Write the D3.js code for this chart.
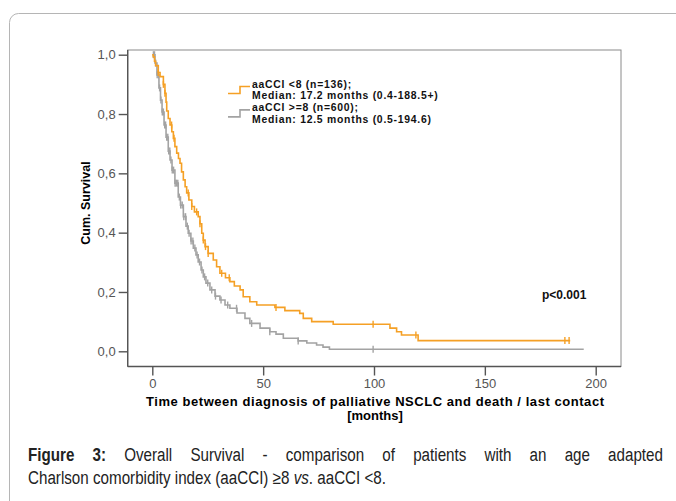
<!DOCTYPE html>
<html>
<head>
<meta charset="utf-8">
<script src="https://cdn.jsdelivr.net/npm/d3@7"></script>
<style>
  body { margin: 0; background: #fff; }
  svg { display: block; font-family: "Liberation Sans", Arial, sans-serif; }
</style>
</head>
<body>
<script>
// Kaplan-Meier chart, overall survival by aaCCI

//step data: time (months) and cumulative survival
var lowTimes = [0, 0.4, 1, 1.5, 2.7, 3.5, 5, 5.7, 6.2, 6.5, 7.2, 8, 8.8, 9.5, 10.2, 11, 11.8, 12.5, 13.2, 14, 14.8, 15.5, 16.5, 17.8, 19, 20.7, 21.5, 22.3, 23, 23.8, 25.2, 27.5, 29, 30.5, 33, 35, 37, 39.6, 41, 44, 47.1, 55.3, 59.8, 66.5, 68.1, 71.9, 81.6, 107.2, 110.2, 112.4, 119.9];
var lowSurv = [1, 0.993, 0.978, 0.963, 0.94, 0.926, 0.9, 0.87, 0.84, 0.81, 0.785, 0.763, 0.74, 0.718, 0.69, 0.668, 0.65, 0.634, 0.605, 0.578, 0.555, 0.534, 0.51, 0.488, 0.47, 0.454, 0.43, 0.398, 0.375, 0.353, 0.33, 0.308, 0.285, 0.263, 0.248, 0.235, 0.22, 0.207, 0.184, 0.167, 0.156, 0.148, 0.137, 0.128, 0.111, 0.1, 0.091, 0.078, 0.066, 0.055, 0.036];
var lowEnd = 188.5;
var lowCensor = [2.7, 5.0, 5.7, 8.7, 9.8, 16.2, 17.8, 20.0, 21.5, 23.0, 24.0, 25.2, 31.3, 34.7, 55.8, 99.6, 118.9, 186.1, 188.0];

var highTimes = [0, 1.2, 2.1, 3.0, 3.7, 4.4, 5.3, 6.2, 7.2, 8.0, 8.9, 10.2, 11.7, 12.7, 14.0, 15.2, 16.2, 17.4, 18.5, 19.7, 20.7, 22.0, 23.0, 24.2, 26.0, 28.3, 30.5, 32.8, 35.0, 38.2, 41.8, 44.0, 48.6, 53.0, 55.8, 59.1, 65.8, 69.7, 74.1, 77.0, 79.9];
var highSurv = [1, 0.972, 0.932, 0.888, 0.847, 0.807, 0.763, 0.722, 0.675, 0.645, 0.611, 0.567, 0.52, 0.493, 0.454, 0.422, 0.398, 0.372, 0.348, 0.325, 0.301, 0.274, 0.251, 0.23, 0.207, 0.186, 0.173, 0.156, 0.145, 0.129, 0.111, 0.094, 0.078, 0.066, 0.058, 0.044, 0.035, 0.028, 0.021, 0.014, 0.007];
var highEnd = 194.6;
var highCensor = [0.5, 1.0, 1.5, 2.2, 2.8, 3.3, 3.9, 4.5, 5.0, 5.6, 6.0, 6.5, 7.0, 7.4, 7.9, 8.4, 9.0, 9.6, 10.3, 10.9, 11.5, 12.2, 12.8, 13.5, 14.2, 15.0, 15.8, 16.6, 17.5, 18.3, 19.2, 20.2, 21.3, 22.4, 23.6, 25.0, 26.8, 28.5, 31.0, 34.0, 38.0, 44.8, 53.0, 65.8, 99.6];

var xTicks = [0, 50, 100, 150, 200];
var yTicks = [0, 0.2, 0.4, 0.6, 0.8, 1.0];

var legendLabels = [
    ["aaCCI <8 (n=136);", "Median: 17.2 months (0.4-188.5+)"],
    ["aaCCI >=8 (n=600);", "Median: 12.5 months (0.5-194.6)"]
];
var seriesColors = ["#f5a025", "#a3a3a3"];

var captionLine1 = [["Figure", true], ["3:", true], ["Overall", false], ["Survival", false], ["-", false], ["comparison", false], ["of", false], ["patients", false], ["with", false], ["an", false], ["age", false], ["adapted", false]];

(function(){

var width = 676,
    height = 501;

var svg = d3.select("body")
    .append("svg")
    .attr("width", width)
    .attr("height", height);

//card outline
svg.append("rect")
    .attr("x", 9.5)
    .attr("y", 13.5)
    .attr("width", 700)
    .attr("height", 520)
    .attr("rx", 9)
    .attr("fill", "none")
    .attr("stroke", "#b5b5b5")
    .attr("stroke-width", 1);

//scales
var x = d3.scaleLinear().domain([0, 200]).range([152.3, 595.7]);
var y = d3.scaleLinear().domain([0, 1]).range([351.3, 54.7]);

var frameLeft = 127.7, frameRight = 621, frameTop = 50, frameBottom = 366.5;

//plot frame
svg.append("rect")
    .attr("x", frameLeft)
    .attr("y", frameTop)
    .attr("width", frameRight - frameLeft)
    .attr("height", frameBottom - frameTop)
    .attr("fill", "none")
    .attr("stroke", "#8a8a8a")
    .attr("stroke-width", 1);

//y axis
var yAxis = svg.append("g")
    .attr("transform", "translate(" + frameLeft + ",0)")
    .call(d3.axisLeft(y).tickValues(yTicks).tickSize(9).tickPadding(3)
        .tickFormat(function(d){ return d3.format(".1f")(d).replace(".", ","); }));
yAxis.select(".domain").attr("d", "M0," + frameTop + "V" + frameBottom);

//x axis
var xAxis = svg.append("g")
    .attr("transform", "translate(0," + frameBottom + ")")
    .call(d3.axisBottom(x).tickValues(xTicks).tickSize(9).tickPadding(3));
xAxis.select(".domain").attr("d", "M" + frameLeft + ",0H" + frameRight);

svg.selectAll(".domain, .tick line")
    .attr("stroke", "#555")
    .attr("stroke-width", 1.4);
svg.selectAll(".tick text")
    .attr("fill", "#555")
    .style("font-size", "13px")
    .style("font-family", "\"Liberation Sans\", Arial, sans-serif");

//axis titles
svg.append("text")
    .attr("x", 375)
    .attr("y", 406)
    .attr("text-anchor", "middle")
    .attr("textLength", 458)
    .attr("lengthAdjust", "spacing")
    .style("font-size", "13px")
    .style("font-weight", "bold")
    .text("Time between diagnosis of palliative NSCLC and death / last contact");
svg.append("text")
    .attr("x", 375)
    .attr("y", 420)
    .attr("text-anchor", "middle")
    .style("font-size", "13px")
    .style("font-weight", "bold")
    .text("[months]");
svg.append("text")
    .attr("transform", "translate(90,203) rotate(-90)")
    .attr("text-anchor", "middle")
    .style("font-size", "12.5px")
    .style("font-weight", "bold")
    .text("Cum. Survival");

//survival curves
var series = [
    {times: highTimes, surv: highSurv, end: highEnd, censor: highCensor, color: seriesColors[1]},
    {times: lowTimes, surv: lowSurv, end: lowEnd, censor: lowCensor, color: seriesColors[0]}
];

var line = d3.line()
    .x(function(d){ return x(d[0]); })
    .y(function(d){ return y(d[1]); })
    .curve(d3.curveStepAfter);

series.forEach(function(s){
    var pts = s.times.map(function(t, i){ return [t, s.surv[i]]; });
    pts.push([s.end, s.surv[s.surv.length - 1]]);

    svg.append("path")
        .datum(pts)
        .attr("d", line)
        .attr("fill", "none")
        .attr("stroke", s.color)
        .attr("stroke-width", 1.6);

    //censor marks
    svg.selectAll(null)
        .data(s.censor)
        .enter()
        .append("line")
        .attr("x1", function(d){ return x(d); })
        .attr("x2", function(d){ return x(d); })
        .attr("y1", function(d){ return y(survAt(s, d)) - 3.5; })
        .attr("y2", function(d){ return y(survAt(s, d)) + 3.5; })
        .attr("stroke", s.color)
        .attr("stroke-width", 1.4);
});

//legend (tight rows, as in the original)
var legend = svg.append("g");
legendLabels.forEach(function(lab, i){
    var top = 87.5 + i * 23.4;
    legend.append("path")
        .attr("d", "M228," + (top + 6) + "H240V" + (top - 1) + "H250")
        .attr("fill", "none")
        .attr("stroke", seriesColors[i])
        .attr("stroke-width", 1.6);
    lab.forEach(function(t, j){
        legend.append("text")
            .attr("x", 252)
            .attr("y", top + j * 11.7)
            .style("font-size", "10.4px")
            .style("font-weight", "bold")
            .style("letter-spacing", "0.75px")
            .attr("fill", "#111")
            .text(t);
    });
});

svg.append("text")
    .attr("x", 542)
    .attr("y", 299)
    .style("font-size", "12px")
    .style("font-weight", "bold")
    .attr("fill", "#111")
    .text("p<0.001");

//caption: narrow-looking text (horizontally squeezed), sized so line 2 fits its width,
//then the first line is justified word by word
var capLeft = 28, capRight = 663, capLine2Width = 358, squeeze = 0.84;

var line2 = svg.append("text")
    .attr("transform", "translate(" + capLeft + ",484) scale(" + squeeze + ",1)")
    .attr("fill", "#222")
    .style("font-size", "16px");
line2.append("tspan").text("Charlson comorbidity index (aaCCI) \u22658 ");
line2.append("tspan").style("font-style", "italic").text("vs");
line2.append("tspan").text(". aaCCI <8.");
var capSize = 16 * capLine2Width / (line2.node().getComputedTextLength() * squeeze);
line2.style("font-size", capSize + "px");

var words = captionLine1.map(function(w){
    var t = svg.append("text")
        .attr("fill", "#222")
        .style("font-size", capSize + "px")
        .style("font-weight", w[1] ? "bold" : "normal")
        .text(w[0]);
    return {node: t, w: t.node().getComputedTextLength() * squeeze};
});
var total = d3.sum(words, function(d){ return d.w; });
var gap = (capRight - capLeft - total) / (words.length - 1);
var cx = capLeft;
words.forEach(function(d){
    d.node.attr("transform", "translate(" + cx + ",461) scale(" + squeeze + ",1)");
    cx += d.w + gap;
});

//survival at time t from the step arrays
function survAt(s, t){
    var v = s.surv[0];
    for (var i = 0; i < s.times.length; i++){
        if (s.times[i] <= t) v = s.surv[i];
    }
    return v;
}

})();
</script>
</body>
</html>
